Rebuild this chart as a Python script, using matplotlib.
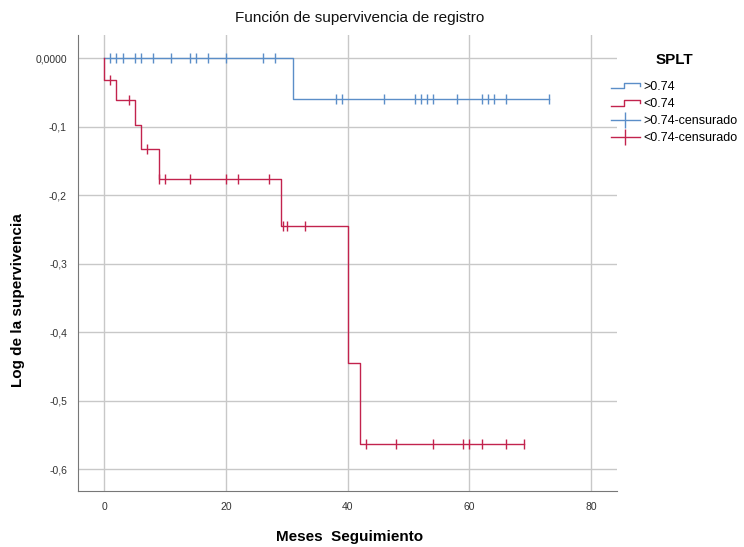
import matplotlib
matplotlib.use("Agg")
import matplotlib.pyplot as plt
from matplotlib.lines import Line2D
from matplotlib.legend_handler import HandlerBase

plt.rcParams["font.family"] = ["Liberation Sans", "DejaVu Sans"]

BLUE = "#5b8ec8"
RED = "#c2234d"
GRID = "#c8c8c8"

# step functions: (time, log survival) at each step start
hi_t = [0, 31, 73]
hi_s = [0.0, -0.060, -0.060]
lo_t = [0, 2, 5, 6, 9, 29, 40, 42, 69]
lo_s = [-0.031, -0.061, -0.097, -0.133, -0.176, -0.245, -0.445, -0.563, -0.563]

# censored observations
hi_cens_t = [1, 2, 3, 5, 6, 8, 11, 14, 15, 17, 20, 26, 28,
             38, 39, 46, 51, 52, 53, 54, 58, 62, 63, 64, 66, 73]
hi_cens_s = [0.0] * 13 + [-0.060] * 13
lo_cens_t = [1, 4, 7, 9, 10, 14, 20, 22, 27, 29.3, 30, 33,
             43, 48, 54, 59, 60, 62, 66, 69]
lo_cens_s = [-0.031, -0.061, -0.133] + [-0.176] * 6 + [-0.245] * 3 + [-0.563] * 8

xticks = [0, 20, 40, 60, 80]
yticks = [0.0, -0.1, -0.2, -0.3, -0.4, -0.5, -0.6]
ylabels = ["0,0000", "-0,1", "-0,2", "-0,3", "-0,4", "-0,5", "-0,6"]


class StepHandler(HandlerBase):
    def create_artists(self, legend, orig, xd, yd, w, h, fs, trans):
        xs = [0, 0.45 * w, 0.45 * w, w, w]
        ys = [0.15 * h, 0.15 * h, 0.8 * h, 0.8 * h, 0.45 * h]
        ln = Line2D([x - xd for x in xs], [y - yd for y in ys],
                    color=orig.get_color(), lw=1.0, transform=trans)
        return [ln]


fig = plt.figure(figsize=(7.44, 5.47), dpi=100)
ax = fig.add_axes([0.105, 0.102, 0.724, 0.834])

ax.step(hi_t, hi_s, where="post", color=BLUE, lw=1.0, zorder=3)
ax.step([0] + lo_t, [0.0] + lo_s, where="post", color=RED, lw=1.0, zorder=3)
ax.plot(hi_cens_t, hi_cens_s, ls="none", marker="|", ms=7, mew=1.0, color=BLUE, zorder=4)
ax.plot(lo_cens_t, lo_cens_s, ls="none", marker="|", ms=7, mew=1.0, color=RED, zorder=4)

ax.set_xlim(-4.3, 84.2)
ax.set_ylim(-0.632, 0.034)
ax.set_xticks(xticks)
ax.set_yticks(yticks)
ax.set_yticklabels(ylabels)
ax.grid(True, color=GRID, lw=1.0, zorder=0)
ax.tick_params(length=0, labelsize=7.5, colors="#333333", pad=8)
for s in ["top", "right"]:
    ax.spines[s].set_visible(False)
for s in ["left", "bottom"]:
    ax.spines[s].set_color("#777777")

fig.text(0.483, 0.967, "Función de supervivencia de registro", fontsize=11,
         ha="center", va="center", color="#111111")
fig.text(0.47, 0.018, "Meses  Seguimiento", fontsize=11, fontweight="bold",
         ha="center", va="center")
fig.text(0.024, 0.452, "Log de la supervivencia", fontsize=11, fontweight="bold",
         ha="center", va="center", rotation=90)

handles = [Line2D([], [], color=BLUE), Line2D([], [], color=RED),
           Line2D([0, 1], [0, 0], color=BLUE, marker="|", ms=11, lw=1.0),
           Line2D([0, 1], [0, 0], color=RED, marker="|", ms=11, lw=1.0)]
names = [">0.74", "<0.74", ">0.74-censurado", "<0.74-censurado"]
leg = fig.legend(handles, names, loc="upper left", bbox_to_anchor=(0.818, 0.908),
                 frameon=False, fontsize=9, handlelength=2.3, handletextpad=0.25,
                 labelspacing=0.42, title="SPLT", borderaxespad=0, borderpad=0.2,
                 title_fontproperties={"size": 11, "weight": "bold"},
                 handler_map={handles[0]: StepHandler(), handles[1]: StepHandler()})
leg._legend_box.sep = 10

fig.savefig("out.png", dpi=100)
